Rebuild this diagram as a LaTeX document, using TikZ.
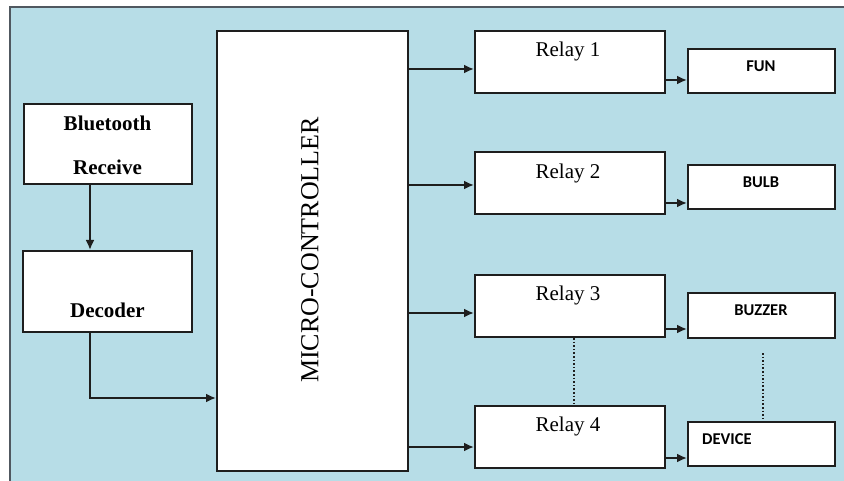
\documentclass[tikz,border=0pt]{standalone}
\usepackage{fontspec}
\setmainfont{Liberation Serif}
\newfontfamily\devfont{Carlito}
\usetikzlibrary{arrows.meta,calc}
\definecolor{panel}{HTML}{B7DDE7}
\definecolor{edge}{HTML}{505860}
\definecolor{ink}{HTML}{1E1E1E}
\tikzset{
  blockbox/.style={draw=ink, line width=2pt, fill=white, rectangle, inner sep=0pt},
  relaybox/.style={blockbox, minimum width=190pt, minimum height=62pt},
  loadbox/.style={blockbox, minimum width=147pt, minimum height=44pt},
  relaytxt/.style={anchor=base, inner sep=0pt, font=\fontsize{21}{25}\selectfont},
  boldtxt/.style={anchor=base, inner sep=0pt, font=\fontsize{21}{25}\selectfont\bfseries},
  loadtxt/.style={anchor=base, inner sep=0pt, font=\devfont\fontsize{16.5}{20}\selectfont\bfseries},
  link/.style={draw=ink, line width=2pt, -{Latex[length=10pt,width=9pt]}},
  dotlink/.style={draw=ink, line width=1.6pt, dotted}
}
\begin{document}
\begin{tikzpicture}[x=1pt,y=-1pt]
\useasboundingbox (0,0) rectangle (844,481);
% panel
\fill[panel] (10,7) rectangle (844,481);
\draw[edge, line width=1.6pt] (10,481) -- (10,7) -- (844,7);

% input side
\node[blockbox, minimum width=168pt, minimum height=80pt] (bt) at (108,144) {};
\node[boldtxt] (btA) at (107.5,130.7) {Bluetooth};
\node[boldtxt] (btB) at (107.5,175) {Receive};
\node[blockbox, minimum width=169pt, minimum height=81pt] (dec) at (107.5,291.5) {};
\node[boldtxt] (decT) at (107.5,317.3) {Decoder};

% controller
\node[blockbox, minimum width=191pt, minimum height=440pt] (mc) at (312.5,251) {};
\node[rotate=90, inner sep=0pt, font=\fontsize{26}{30}\selectfont] (mcT) at (310,250) {MICRO-CONTROLLER};

% relays
\node[relaybox] (r1) at (570,62) {};
\node[relaybox] (r2) at (570,183) {};
\node[relaybox] (r3) at (570,306) {};
\node[relaybox] (r4) at (570,437) {};
\node[relaytxt] (r1T) at (568,56.7) {Relay 1};
\node[relaytxt] (r2T) at (568,178.3) {Relay 2};
\node[relaytxt] (r3T) at (568,300.7) {Relay 3};
\node[relaytxt] (r4T) at (568,431.7) {Relay 4};

% loads
\node[loadbox] (fun) at (761.5,71) {};
\node[loadbox] (bulb) at (761.5,187) {};
\node[loadbox, minimum height=45pt] (buz) at (761.5,315.5) {};
\node[loadbox] (dev) at (761.5,444) {};
\node[loadtxt] (funT) at (761,72) {FUN};
\node[loadtxt] (bulbT) at (761,187.3) {BULB};
\node[loadtxt] (buzT) at (761,315.7) {BUZZER};
\node[loadtxt, anchor=base west] (devT) at (702,444.3) {DEVICE};

% rows of the controller outputs
\coordinate (o1) at (0,69);
\coordinate (o2) at (0,185);
\coordinate (o3) at (0,313);
\coordinate (o4) at (0,447);
\coordinate (inrow) at (0,398);
% rows of the relay outputs
\coordinate (p1) at (0,80);
\coordinate (p2) at (0,203);
\coordinate (p3) at (0,329);
\coordinate (p4) at (0,458);

% input chain
\draw[link] ([xshift=-18pt]bt.south) -- ([xshift=-17.5pt]dec.north);
\draw[link] ([xshift=-17.5pt]dec.south) |- (mc.west |- inrow);

% controller to relays
\draw[link] (mc.east |- o1) -- (r1.west |- o1);
\draw[link] (mc.east |- o2) -- (r2.west |- o2);
\draw[link] (mc.east |- o3) -- (r3.west |- o3);
\draw[link] (mc.east |- o4) -- (r4.west |- o4);

% relays to loads
\draw[link] (r1.east |- p1) -- (fun.west |- p1);
\draw[link] (r2.east |- p2) -- (bulb.west |- p2);
\draw[link] (r3.east |- p3) -- (buz.west |- p3);
\draw[link] (r4.east |- p4) -- (dev.west |- p4);

% continuation marks
\draw[dotlink] ([xshift=4pt]r3.south) -- ([xshift=4pt]r4.north);
\draw[dotlink] ([xshift=1.5pt,yshift=-14pt]buz.south) -- ([xshift=1.5pt]dev.north);
\end{tikzpicture}
\end{document}
